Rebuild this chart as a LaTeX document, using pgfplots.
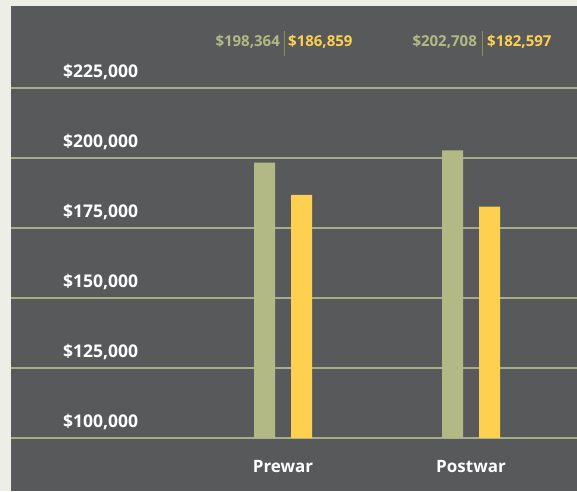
\documentclass[border=0pt]{standalone}
\usepackage{pgfplots}
\pgfplotsset{compat=1.18}
\usepackage{fontspec}
\setmainfont{Open Sans}
\definecolor{cream}{HTML}{EDEEE6}
\definecolor{panel}{HTML}{58595B}
\definecolor{gridc}{HTML}{A9AC8A}
\definecolor{greenbar}{HTML}{B3B984}
\definecolor{yellowbar}{HTML}{FDD14F}
\definecolor{sepc}{HTML}{8E9051}
\begin{document}
\begin{tikzpicture}
\fill[cream] (0,0) rectangle (577pt,491pt);
\fill[panel] (11pt,0) rectangle (577pt,485pt);
\begin{axis}[
  at={(11pt,53pt)}, anchor=south west,
  scale only axis, width=566pt, height=432pt,
  xmin=-1.4468, xmax=1.5638,
  ymin=100000, ymax=254286,
  ybar=16pt, bar width=21pt,
  axis line style={draw=none},
  tick style={draw=none},
  scaled y ticks=false,
  ytick={100000,125000,150000,175000,200000,225000},
  yticklabels={{\$100,000},{\$125,000},{\$150,000},{\$175,000},{\$200,000},{\$225,000}},
  yticklabel style={anchor=base west, inner sep=0pt, xshift=52pt, yshift=11pt, text=white, font=\bfseries\fontsize{17.5}{17.5}\selectfont},
  xtick={0,1},
  xticklabels={Prewar,Postwar},
  xticklabel style={anchor=base, inner sep=0pt, yshift=-30pt, text=white, font=\bfseries\fontsize{17}{17}\selectfont},
  ymajorgrids, major grid style={gridc, line width=1.2pt},
  clip=false,
]
\addplot[fill=greenbar, draw=none] coordinates {(0,198364) (1,202708)};
\addplot[fill=yellowbar, draw=none] coordinates {(0,186859) (1,182597)};
\begin{scope}[font=\bfseries\fontsize{15}{15}\selectfont]
\node[anchor=base east, inner sep=0pt, text=greenbar] at (axis cs:-0.016,239643) {\$198,364};
\node[anchor=base west, inner sep=0pt, text=yellowbar] at (axis cs:0.0266,239643) {\$186,859};
\node[anchor=base east, inner sep=0pt, text=greenbar] at (axis cs:1.032,239643) {\$202,708};
\node[anchor=base west, inner sep=0pt, text=yellowbar] at (axis cs:1.085,239643) {\$182,597};
\end{scope}
\draw[sepc, line width=0.8pt] (axis cs:0.0053,236429) -- (axis cs:0.0053,245357);
\draw[sepc, line width=0.8pt] (axis cs:1.0585,236429) -- (axis cs:1.0585,245357);
\end{axis}
\pgfresetboundingbox
\path[use as bounding box] (0,0) rectangle (577pt,491pt);
\end{tikzpicture}
\end{document}
